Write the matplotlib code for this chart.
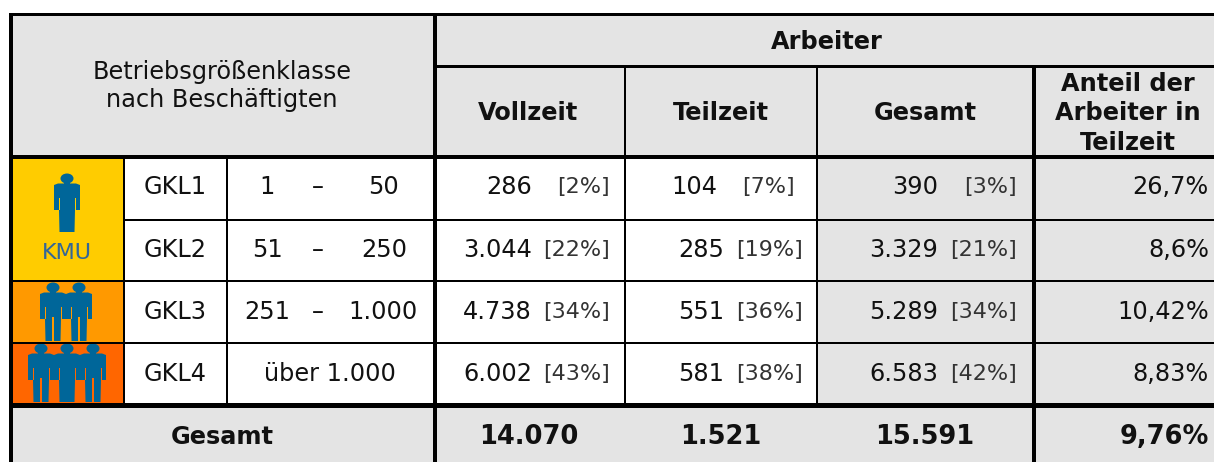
import matplotlib
matplotlib.use("Agg")
import matplotlib.pyplot as plt
from matplotlib.patches import Ellipse, Polygon, Rectangle

size_labels = ["GKL1", "GKL2", "GKL3", "GKL4"]
size_from = ["1", "51", "251"]
size_to = ["50", "250", "1.000"]
open_class = "über 1.000"

full_time = ["286", "3.044", "4.738", "6.002"]
full_share = ["[2%]", "[22%]", "[34%]", "[43%]"]
part_time = ["104", "285", "551", "581"]
part_share = ["[7%]", "[19%]", "[36%]", "[38%]"]
total = ["390", "3.329", "5.289", "6.583"]
total_share = ["[3%]", "[21%]", "[34%]", "[42%]"]
part_ratio = ["26,7%", "8,6%", "10,42%", "8,83%"]
totals_row = ["14.070", "1.521", "15.591", "9,76%"]

GREY = "#e4e4e4"
BLUE = "#006699"
TEXT = "#111111"
YELLOW = "#ffcc00"
AMBER = "#ff9900"
ORANGE = "#ff6600"
SIZE = 17.3
SHARE_SIZE = 16
TOTAL_SIZE = 18.5

row_mid = [187, 250, 312, 374]
to_right = [399, 407, 418]

fig = plt.figure(figsize=(12.14, 4.62), dpi=100)
ax = fig.add_axes([0, 0, 1, 1])
ax.set_xlim(0, 1214)
ax.set_ylim(462, 0)
ax.axis("off")


def box(x0, y0, x1, y1, color):
    ax.add_patch(Rectangle((x0, y0), x1 - x0, y1 - y0, fc=color, ec="none", zorder=1))


def hline(y, x0, x1, px):
    ax.plot([x0, x1], [y, y], color="black", lw=px * 0.72, solid_capstyle="butt", zorder=3)


def vline(x, y0, y1, px):
    ax.plot([x, x], [y0, y1], color="black", lw=px * 0.72, solid_capstyle="butt", zorder=3)


def label(x, y, s, ha="center", size=SIZE, weight="normal", color=TEXT):
    ax.text(x, y, s, ha=ha, va="center", fontsize=size, fontweight=weight, color=color,
            family="DejaVu Sans", zorder=4)


def person(cx, top, bg, leg_gap=0.0):
    # flat head, blocky body, arms split off the torso by a thin line
    ax.add_patch(Ellipse((cx, top + 4.5), 13, 10, fc=BLUE, ec="none", zorder=2))
    ax.add_patch(Rectangle((cx - 3, top + 7), 6, 4, fc=BLUE, ec="none", zorder=2))
    body = [(-13, 11), (-9, 9.5), (9, 9.5), (13, 11), (13, 36), (8, 36), (7.5, 58), (-7.5, 58), (-8, 36), (-13, 36)]
    ax.add_patch(Polygon([(cx + dx, top + dy) for dx, dy in body], fc=BLUE, ec="none", zorder=2))
    for side in (-8.5, 7.5):
        ax.add_patch(Rectangle((cx + side, top + 24), 1, 12, fc=bg, ec="none", zorder=2.1))
    if leg_gap:
        ax.add_patch(Rectangle((cx - leg_gap / 2, top + 34), leg_gap, 25, fc=bg, ec="none", zorder=2.1))


# backgrounds
box(12, 15, 1214, 155, GREY)
box(12, 406, 1214, 462, GREY)
box(817, 157, 1214, 406, GREY)
box(12, 157, 124, 281, YELLOW)
box(12, 281, 124, 343, AMBER)
box(12, 343, 124, 404, ORANGE)

# icons
person(67, 174, YELLOW)
label(67, 253, "KMU", size=16, color="#336699")
person(53, 283, AMBER, 1.5)
person(79, 283, AMBER, 1.5)
person(41, 344, ORANGE, 1.5)
person(93, 344, ORANGE, 1.5)
person(67, 344, ORANGE)

# grid
hline(13.5, 9, 1214, 3)
hline(65.5, 434, 1214, 3)
hline(156.5, 10, 1214, 4)
hline(219.5, 124, 1214, 2)
hline(281, 12, 1214, 2)
hline(342.5, 12, 1214, 2)
hline(405, 10, 1214, 5)
vline(11, 13, 462, 4)
vline(434.5, 13, 462, 4)
vline(124, 157, 404, 2)
vline(227, 157, 404, 2)
vline(625, 66, 404, 2)
vline(817, 66, 404, 2)
vline(1033.5, 66, 462, 4)

# header
label(222, 72, "Betriebsgrößenklasse")
label(222, 100, "nach Beschäftigten")
label(827, 42, "Arbeiter", weight="bold")
label(528, 113, "Vollzeit", weight="bold")
label(721, 113, "Teilzeit", weight="bold")
label(925, 113, "Gesamt", weight="bold")
label(1128, 84, "Anteil der", weight="bold")
label(1128, 113, "Arbeiter in", weight="bold")
label(1128, 143, "Teilzeit", weight="bold")

# body rows
for i, y in enumerate(row_mid):
    label(175, y, size_labels[i])
    if i < len(size_from):
        label(267, y, size_from[i])
        label(318, y, "–")
        label(to_right[i], y, size_to[i], ha="right")
    else:
        label(330, y, open_class)
    label(532, y, full_time[i], ha="right")
    label(610, y, full_share[i], ha="right", size=SHARE_SIZE, color="#333333")
    label(717 if i == 0 else 724, y, part_time[i], ha="right")
    label(795 if i == 0 else 803, y, part_share[i], ha="right", size=SHARE_SIZE, color="#333333")
    label(938, y, total[i], ha="right")
    label(1017, y, total_share[i], ha="right", size=SHARE_SIZE, color="#333333")
    label(1209, y, part_ratio[i], ha="right")

# totals
label(222, 437, "Gesamt", weight="bold")
label(529, 437, totals_row[0], weight="bold", size=TOTAL_SIZE)
label(721, 437, totals_row[1], weight="bold", size=TOTAL_SIZE)
label(925, 437, totals_row[2], weight="bold", size=TOTAL_SIZE)
label(1209, 437, totals_row[3], ha="right", weight="bold", size=TOTAL_SIZE)

fig.savefig("out.png", dpi=100)
